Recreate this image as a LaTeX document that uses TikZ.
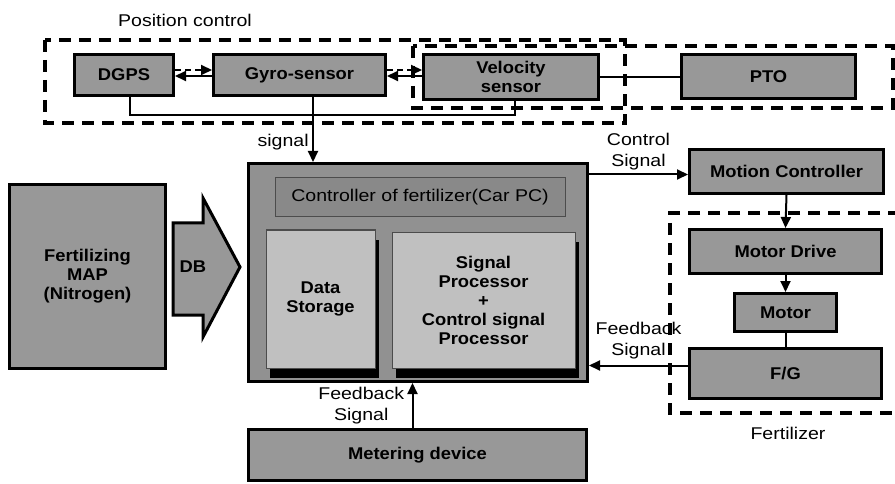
\documentclass[tikz,border=0pt]{standalone}
\usepackage{fontspec}
\setmainfont[FakeStretch=1.15,BoldFeatures={FakeStretch=1.08}]{Liberation Sans}
\usetikzlibrary{arrows.meta,shadows}

\definecolor{boxgray}{RGB}{152,152,152}
\definecolor{maingray}{RGB}{145,145,145}
\definecolor{lightgray}{RGB}{192,192,192}

\tikzset{
  blk/.style={draw, line width=3pt, fill=boxgray, inner sep=0pt, align=center,
    font=\bfseries\fontsize{17}{19}\selectfont},
  inbox/.style={draw=black!70, line width=1pt, fill=lightgray, inner sep=0pt, align=center,
    font=\bfseries\fontsize{17}{19}\selectfont,
    drop shadow={shadow xshift=4pt, shadow yshift=-10pt, fill=black, opacity=1}},
  grp/.style={line width=3.5pt, dash pattern=on 12pt off 8pt},
  sig/.style={line width=2pt},
  sigdash/.style={line width=2pt, dash pattern=on 6pt off 4pt},
  lab/.style={align=center, font=\fontsize{17}{21}\selectfont}
}

\begin{document}
\begin{tikzpicture}[x=1pt, y=-1pt, >={Triangle[length=11pt,width=10pt]}]
  \useasboundingbox (0,0) rectangle (895,484);

  % dashed groups
  \draw[grp] (45,40) rectangle (625,123);
  \draw[grp] (413,46) rectangle (893,108);
  \draw[grp] (900,213) -- (670,213) -- (670,413) -- (900,413);
  \node[lab] (pclab) at (185,20) {Position control};
  \node[lab] (fertlab) at (788,433) {Fertilizer};

  % position control row
  \node[blk, minimum width=99pt, minimum height=41pt] (dgps) at (124,75) {DGPS};
  \node[blk, minimum width=172pt, minimum height=41pt] (gyro) at (299.5,75) {Gyro-sensor};
  \node[blk, minimum width=175pt, minimum height=45pt] (velo) at (511,77) {Velocity\\sensor};
  \node[blk, minimum width=174pt, minimum height=44pt] (pto) at (768.5,76.5) {PTO};

  \draw[sigdash, ->] ([yshift=5pt]dgps.east) -- ([yshift=5pt]gyro.west);
  \draw[sig, ->] ([yshift=-1pt]gyro.west) -- ([yshift=-1pt]dgps.east);
  \draw[sigdash, ->] ([yshift=5pt]gyro.east) -- ([yshift=5pt]gyro.east -| velo.west);
  \draw[sig, ->] ([yshift=-1pt]gyro.east -| velo.west) -- ([yshift=-1pt]gyro.east);
  \draw[sig] (velo.east) -- (velo.east -| pto.west);
  \draw[sig] ([xshift=6pt]dgps.south) -- ++(0,18) -| ([xshift=4pt]velo.south);

  % controller
  \node[blk, fill=maingray, minimum width=339pt, minimum height=218pt] (main) at (418,272.5) {};
  \node[draw=black!70, line width=1pt, fill=boxgray!90!black, minimum width=290pt, minimum height=39pt,
    inner sep=0pt, lab] (carpc) at (420,197.5) {Controller of fertilizer(Car PC)};
  \node[inbox, minimum width=109pt, minimum height=138pt] (store) at (320.5,299) {Data\\Storage};
  \node[inbox, minimum width=183pt, minimum height=136pt] (proc) at (483.5,300)
    {Signal\\Processor\\+\\Control signal\\Processor};

  \draw[sig, ->] ([xshift=13.5pt]gyro.south) -- ([xshift=13.5pt]gyro.south |- main.north)
    node[lab, pos=0.7, left] (siglab) {signal};

  % map and DB arrow
  \node[blk, minimum width=156pt, minimum height=184pt] (map) at (87.5,276.5) {Fertilizing\\MAP\\(Nitrogen)};
  \draw[line width=3pt, fill=boxgray] (173,223) -- (203,223) -- (203,198) -- (240,267)
    -- (203,337) -- (203,315) -- (173,315) -- cycle;
  \node[font=\bfseries\fontsize{17}{19}\selectfont] (db) at (193,267) {DB};

  % fertilizer side
  \node[blk, minimum width=194pt, minimum height=44pt] (mc) at (786.5,171.5) {Motion Controller};
  \node[blk, minimum width=192pt, minimum height=44pt] (md) at (785.5,251.5) {Motor Drive};
  \node[blk, minimum width=102pt, minimum height=38pt] (motor) at (785.5,312.5) {Motor};
  \node[blk, minimum width=192pt, minimum height=50pt] (fg) at (785.5,373.5) {F/G};

  \draw[sig, ->] ([yshift=-3pt]main.east |- mc.west) -- ([yshift=-3pt]mc.west)
    node[lab, midway, above] (ctrllab) {Control\\Signal};
  \draw[sig, ->] (mc.south) -- (md.north);
  \draw[sig, ->] (md.south) -- (motor.north);
  \draw[sig] (motor.south) -- (fg.north);
  \draw[sig, ->] ([yshift=8pt]fg.west) -- ([yshift=8pt]fg.west -| main.east)
    node[lab, midway, above, yshift=2pt] (fblab) {Feedback\\Signal};

  % metering
  \node[blk, minimum width=338pt, minimum height=51pt] (meter) at (417.5,455) {Metering device};
  \draw[sig, ->] ([xshift=-5pt]meter.north) -- ([xshift=-5pt]meter.north |- main.south)
    node[lab, midway, left, xshift=-4pt] (fblab2) {Feedback\\Signal};
\end{tikzpicture}
\end{document}
